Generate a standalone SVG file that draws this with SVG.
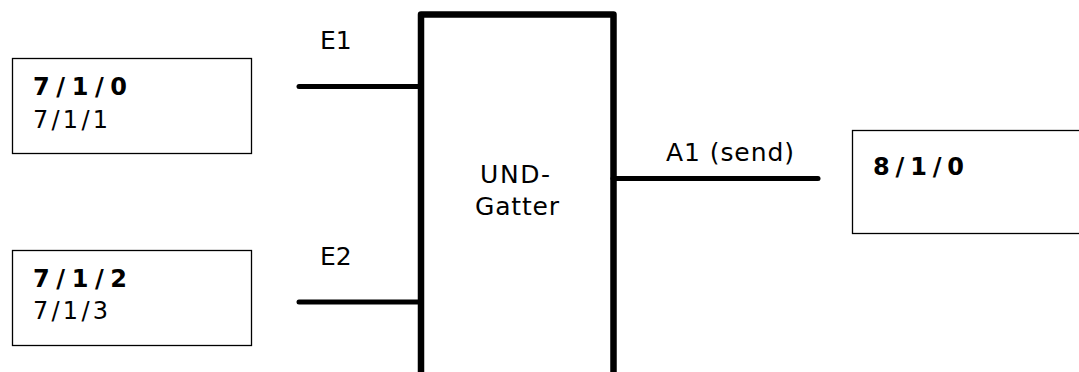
<svg xmlns="http://www.w3.org/2000/svg" width="1079" height="372" viewBox="0 0 1079 372">
<style>
text{font-family:"DejaVu Sans","Verdana",sans-serif;fill:#000}
.b{font-weight:bold;font-size:24px}
.r{font-size:24px}
.l{font-size:25px}
.box{fill:#fff;stroke:#000;stroke-width:1.3}
.wire{stroke:#000;stroke-width:5;stroke-linecap:round;fill:none}
</style>
<rect width="1079" height="372" fill="#fff"/>
<g id="src1">
<rect class="box" x="12.5" y="58.5" width="239" height="95"/>
<text class="b" x="33" y="95" textLength="94">7/1/0</text>
<text class="r" x="33" y="128" textLength="75">7/1/1</text>
</g>
<g id="src2">
<rect class="box" x="12.5" y="250.5" width="239" height="95"/>
<text class="b" x="33" y="287" textLength="94">7/1/2</text>
<text class="r" x="33" y="319" textLength="75">7/1/3</text>
</g>
<g id="gate">
<path d="M421,372 V14.5 H613.5 V372" fill="#fff" stroke="#000" stroke-width="6.5" stroke-linejoin="round"/>
<text class="l" x="480" y="183" textLength="70">UND-</text>
<text class="l" x="475" y="215" textLength="84">Gatter</text>
</g>
<g id="dst">
<rect class="box" x="852.5" y="130.5" width="240" height="103"/>
<text class="b" x="873" y="175" textLength="91">8/1/0</text>
</g>
<g id="connectors">
<line class="wire" x1="299" y1="86.5" x2="421" y2="86.5"/>
<line class="wire" x1="299" y1="302" x2="421" y2="302"/>
<line class="wire" x1="613" y1="178.5" x2="818" y2="178.5"/>
<text class="l" x="320" y="49">E1</text>
<text class="l" x="320" y="265">E2</text>
<text class="l" x="666" y="161" textLength="128">A1 (send)</text>
</g>
</svg>
